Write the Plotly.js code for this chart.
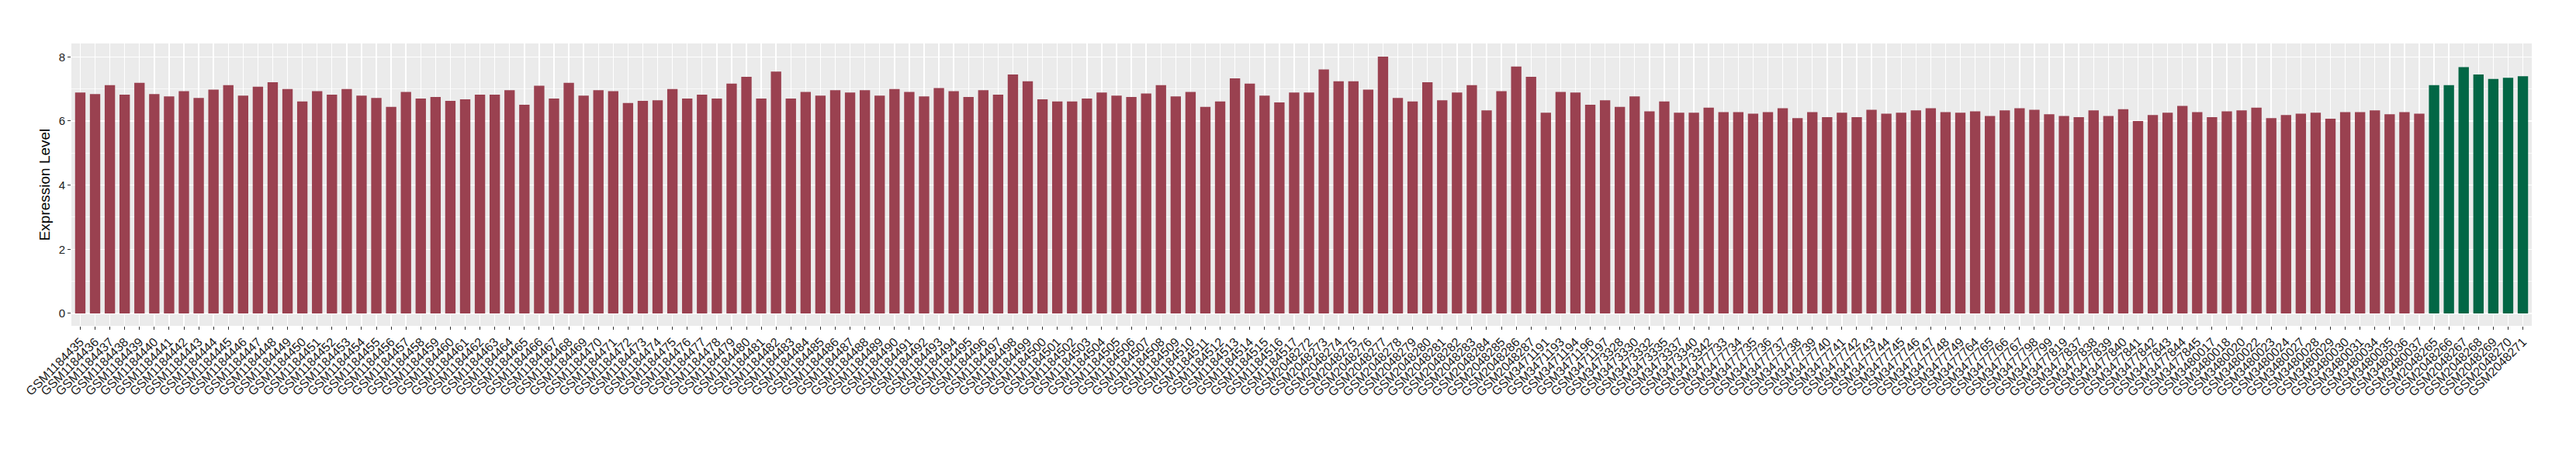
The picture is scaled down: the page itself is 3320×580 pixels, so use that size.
<!DOCTYPE html>
<html>
<head>
<meta charset="utf-8">
<script src="https://cdn.plot.ly/plotly-3.0.1.min.js"></script>
<style>html,body{margin:0;padding:0;background:#fff;}#chart{width:3320px;height:580px;}</style>
</head>
<body>
<div id="chart"></div>
<script>
// Group 1 (red) sample IDs
var redLabels = [
"GSM1184435","GSM1184436","GSM1184437","GSM1184438","GSM1184439","GSM1184440","GSM1184441","GSM1184442","GSM1184443","GSM1184444",
"GSM1184445","GSM1184446","GSM1184447","GSM1184448","GSM1184449","GSM1184450","GSM1184451","GSM1184452","GSM1184453","GSM1184454",
"GSM1184455","GSM1184456","GSM1184457","GSM1184458","GSM1184459","GSM1184460","GSM1184461","GSM1184462","GSM1184463","GSM1184464",
"GSM1184465","GSM1184466","GSM1184467","GSM1184468","GSM1184469","GSM1184470","GSM1184471","GSM1184472","GSM1184473","GSM1184474",
"GSM1184475","GSM1184476","GSM1184477","GSM1184478","GSM1184479","GSM1184480","GSM1184481","GSM1184482","GSM1184483","GSM1184484",
"GSM1184485","GSM1184486","GSM1184487","GSM1184488","GSM1184489","GSM1184490","GSM1184491","GSM1184492","GSM1184493","GSM1184494",
"GSM1184495","GSM1184496","GSM1184497","GSM1184498","GSM1184499","GSM1184500","GSM1184501","GSM1184502","GSM1184503","GSM1184504",
"GSM1184505","GSM1184506","GSM1184507","GSM1184508","GSM1184509","GSM1184510","GSM1184511","GSM1184512","GSM1184513","GSM1184514",
"GSM1184515","GSM1184516","GSM1184517",
"GSM2048272","GSM2048273","GSM2048274","GSM2048275","GSM2048276","GSM2048277","GSM2048278","GSM2048279","GSM2048280","GSM2048281",
"GSM2048282","GSM2048283","GSM2048284","GSM2048285","GSM2048286","GSM2048287",
"GSM3471191","GSM3471193","GSM3471194","GSM3471196","GSM3471197","GSM3473328","GSM3473330","GSM3473332","GSM3473335","GSM3473337",
"GSM3473340","GSM3473342","GSM3477733","GSM3477734","GSM3477735","GSM3477736","GSM3477737","GSM3477738","GSM3477739","GSM3477740",
"GSM3477741","GSM3477742","GSM3477743","GSM3477744","GSM3477745","GSM3477746","GSM3477747","GSM3477748","GSM3477749","GSM3477764",
"GSM3477765","GSM3477766","GSM3477767","GSM3477798","GSM3477799","GSM3477819","GSM3477837","GSM3477838","GSM3477839","GSM3477840",
"GSM3477841","GSM3477842","GSM3477843","GSM3477844","GSM3477845","GSM3480017","GSM3480018","GSM3480020","GSM3480022","GSM3480023",
"GSM3480024","GSM3480027","GSM3480028","GSM3480029","GSM3480030","GSM3480031","GSM3480034","GSM3480035","GSM3480036","GSM3480037"
];
var redValues = [
6.89,6.84,7.12,6.82,7.19,6.84,6.77,6.93,6.72,6.98,7.12,6.79,7.07,7.21,7.00,6.61,6.93,6.82,7.00,6.79,
6.72,6.44,6.91,6.70,6.75,6.63,6.68,6.82,6.82,6.96,6.51,7.10,6.70,
7.19,6.79,6.96,6.93,6.56,6.63,6.65,7.00,6.70,6.82,6.70,7.17,7.38,6.70,7.54,6.70,6.91,6.79,6.96,6.89,
6.96,6.79,7.00,6.91,6.77,7.03,6.93,6.75,6.96,6.82,7.45,7.24,6.68,
6.61,6.61,6.70,6.89,6.79,6.75,6.86,7.12,6.77,6.91,6.44,6.61,7.33,7.17,6.79,6.58,6.89,
6.89,7.61,7.24,7.24,6.98,8.01,6.72,6.61,7.21,6.65,6.89,7.12,6.33,6.93,7.70,7.38,
6.26,6.91,6.89,6.51,6.65,6.44,6.77,6.30,6.61,6.26,6.26,6.42,6.28,6.28,6.23,6.28,6.40,6.09,6.28,6.12,
6.26,6.12,6.35,6.23,6.26,6.33,6.40,6.28,6.26,6.30,6.16,6.33,6.40,
6.35,6.21,6.16,6.12,6.33,6.16,6.37,6.00,6.19,6.26,6.47,6.28,6.12,6.30,6.33,6.42,6.09,6.19,6.23,6.26,
6.07,6.28,6.28,6.33,6.21,6.28,6.23
];
// Group 2 (green) sample IDs
var greenLabels = ["GSM2048265","GSM2048266","GSM2048267","GSM2048268","GSM2048269","GSM2048270","GSM2048271"];
var greenValues = [7.12,7.12,7.68,7.45,7.31,7.35,7.40];

var allLabels = redLabels.concat(greenLabels);

var traces = [
  {type:'bar', x:redLabels, y:redValues, marker:{color:'#9A4150', line:{width:0}}, showlegend:false, hoverinfo:'x+y'},
  {type:'bar', x:greenLabels, y:greenValues, marker:{color:'#026645', line:{width:0}}, showlegend:false, hoverinfo:'x+y'}
];

var layout = {
  width:3320, height:580,
  margin:{l:92, r:57, t:56, b:160},
  paper_bgcolor:'#ffffff',
  plot_bgcolor:'#EBEBEB',
  barmode:'overlay',
  bargap:0.3,
  font:{family:'"Liberation Sans", Arial, sans-serif', color:'#1A1A1A'},
  xaxis:{
    type:'category', categoryorder:'array', categoryarray:allLabels,
    range:[-0.6, allLabels.length - 0.4],
    tickmode:'linear', dtick:1,
    tickangle:-45, tickfont:{size:16, color:'#1A1A1A'},
    ticks:'outside', ticklen:4, tickcolor:'#333333', tickwidth:1,
    showgrid:true, gridcolor:'#ffffff', gridwidth:1.4,
    zeroline:false, showline:false, automargin:false, fixedrange:true
  },
  yaxis:{
    range:[-0.39, 8.42],
    tickmode:'linear', tick0:0, dtick:2,
    tickfont:{size:15, color:'#222222'},
    ticks:'outside', ticklen:4, tickcolor:'#333333', tickwidth:1,
    showgrid:true, gridcolor:'#ffffff', gridwidth:1.4,
    minor:{tickmode:'linear', tick0:0, dtick:1, showgrid:true, gridcolor:'#ffffff', gridwidth:0.7, ticklen:0},
    zeroline:false, showline:false, automargin:false, fixedrange:true,
    title:{text:'Expression Level', font:{size:19, color:'#000000'}, standoff:6}
  }
};

Plotly.newPlot('chart', traces, layout, {staticPlot:true, displayModeBar:false});
</script>
</body>
</html>
